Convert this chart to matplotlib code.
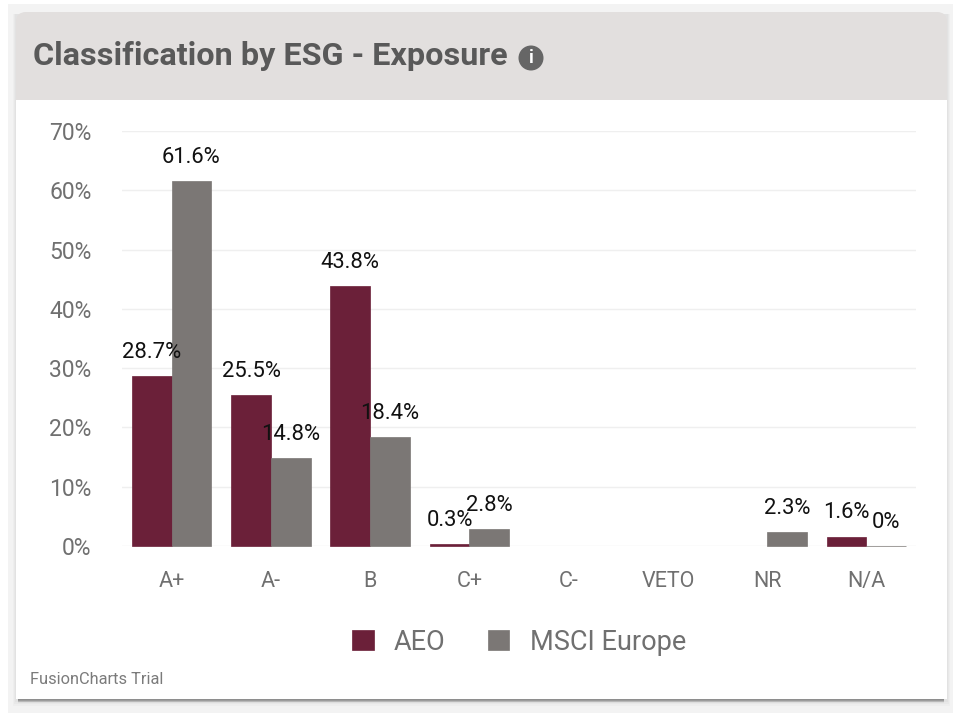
import numpy as np
import matplotlib
matplotlib.use("Agg")
import matplotlib.pyplot as plt
from matplotlib.patches import FancyBboxPatch, Rectangle, Circle

categories = ["A+", "A-", "B", "C+", "C-", "VETO", "NR", "N/A"]
aeo = [28.7, 25.5, 43.8, 0.3, None, None, None, 1.6]
msci = [61.6, 14.8, 18.4, 2.8, None, None, 2.3, 0]
yticks = [0, 10, 20, 30, 40, 50, 60, 70]

W, H = 954, 713
MAROON, GRAY = "#6b2039", "#7b7775"
HEAD = "#e2dfde"
plt.rcParams["font.family"] = ["Roboto", "DejaVu Sans"]
fig = plt.figure(figsize=(W / 100, H / 100), dpi=100, facecolor="white")

bg = fig.add_axes([0, 0, 1, 1], zorder=0)
bg.set_xlim(0, W); bg.set_ylim(H, 0); bg.axis("off")
bg.add_patch(Rectangle((8, 4), W - 8, H - 4, fc="#f3f3f3", ec="none"))
# soft card shadow: light at the sides, dark right below the card
for off, col in [(6, "#eeeeee"), (4, "#e8e8e8"), (2, "#e2e2e2")]:
    bg.add_patch(Rectangle((16 - off / 2, 14), 931 + off, 686 + off, fc=col, ec="none"))
for y0, col in [(703, "#dedede"), (702, "#b8b8b8"), (701, "#9c9c9c"), (700, "#8e8e8e")]:
    bg.add_patch(Rectangle((18, 699), 926, y0 - 699, fc=col, ec="none"))
bg.add_patch(FancyBboxPatch((16, 12), 931, 60, boxstyle="round,pad=0,rounding_size=10",
                            fc=HEAD, ec="none"))
bg.add_patch(Rectangle((16, 50), 931, 50, fc=HEAD, ec="none"))
bg.add_patch(Rectangle((16, 100), 931, 599, fc="white", ec="none"))
bg.text(33, 56, "Classification by ESG - Exposure", fontsize=23.3, fontweight="bold",
        color="#595959", va="center", ha="left")
bg.add_patch(Circle((531, 58), 12.5, fc="#666666", ec="none"))
bg.text(531, 58, "i", fontsize=13, fontweight="bold", color="white", ha="center", va="center")
bg.text(30, 680, "FusionCharts Trial", fontsize=11.8, color="#7b7b7b", va="center", ha="left")

L, R, T, B = 122, 916, 131, 546
ax = fig.add_axes([L / W, 1 - B / H, (R - L) / W, (B - T) / H], zorder=1)
ax.patch.set_alpha(0)
x = np.arange(len(categories))
bw = 0.4


def draw(vals, off, col, lab):
    pos = [p + off for p, v in zip(x, vals) if v is not None]
    h = [v for v in vals if v is not None]
    bars = ax.bar(pos, h, bw, color=col, edgecolor=col, label=lab, zorder=3, linewidth=0.5,
                  clip_on=False)
    for p, v in zip(pos, h):
        ax.annotate(f"{v:g}%", (p, v), xytext=(0, 19.5 * 0.72 + 3), textcoords="offset points",
                    ha="center", va="center", fontsize=15.8, color="#111111", zorder=5,
                    family=["Roboto", "DejaVu Sans"])
    return bars


h1 = draw(aeo, -bw / 2, MAROON, "AEO")
h2 = draw(msci, bw / 2, GRAY, "MSCI Europe")

ax.set_xlim(-0.5, len(categories) - 0.5)
ax.set_ylim(0, 70)
ax.set_yticks(yticks, [f"{v}%" for v in yticks])
ax.set_xticks(x, categories)
ax.grid(axis="y", color="#efefef", linewidth=1, zorder=0)
ax.set_axisbelow(True)
for s in ax.spines.values():
    s.set_visible(False)
ax.tick_params(axis="both", length=0, labelcolor="#707070")
ax.tick_params(axis="y", pad=22, labelsize=16.5)
ax.tick_params(axis="x", pad=18, labelsize=15.5)

leg = fig.legend(handles=[h1, h2], loc="center", bbox_to_anchor=(519 / W, 1 - 642 / H), ncol=2,
                 frameon=False, fontsize=19.5, labelcolor="#707070", handlelength=0.8, handleheight=0.8,
                 columnspacing=1.55, handletextpad=0.75)

fig.savefig("out.png", dpi=100, facecolor=fig.get_facecolor())
